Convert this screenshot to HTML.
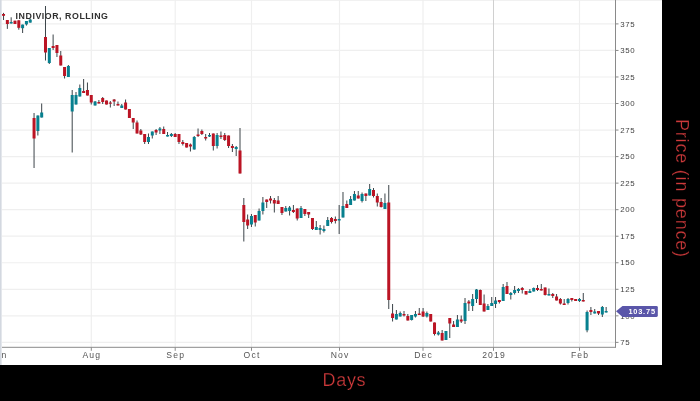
<!DOCTYPE html>
<html><head><meta charset="utf-8"><style>
html,body{margin:0;padding:0;background:#000;width:700px;height:401px;overflow:hidden}
svg{position:absolute;left:0;top:0;will-change:transform;font-family:"Liberation Sans",sans-serif}
</style></head><body>
<svg width="700" height="401" viewBox="0 0 700 401">
<rect x="0" y="0" width="700" height="401" fill="#000"/>
<rect x="0" y="0" width="662" height="365" fill="#fff"/>
<rect x="0" y="0" width="662" height="1" fill="#f1f1f1"/>
<svg x="0" y="0" width="662" height="365" overflow="hidden">
<g>
<g stroke="#efefef" stroke-width="1.2"><line x1="2" y1="23.9" x2="615" y2="23.9"/><line x1="2" y1="50.44" x2="615" y2="50.44"/><line x1="2" y1="76.98" x2="615" y2="76.98"/><line x1="2" y1="103.52" x2="615" y2="103.52"/><line x1="2" y1="130.06" x2="615" y2="130.06"/><line x1="2" y1="156.6" x2="615" y2="156.6"/><line x1="2" y1="183.14" x2="615" y2="183.14"/><line x1="2" y1="209.68" x2="615" y2="209.68"/><line x1="2" y1="236.22" x2="615" y2="236.22"/><line x1="2" y1="262.76" x2="615" y2="262.76"/><line x1="2" y1="289.3" x2="615" y2="289.3"/><line x1="2" y1="315.84" x2="615" y2="315.84"/><line x1="2" y1="342.38" x2="615" y2="342.38"/><line x1="91.3" y1="0" x2="91.3" y2="347"/><line x1="175.2" y1="0" x2="175.2" y2="347"/><line x1="251.5" y1="0" x2="251.5" y2="347"/><line x1="339.5" y1="0" x2="339.5" y2="347"/><line x1="423" y1="0" x2="423" y2="347"/><line x1="579.5" y1="0" x2="579.5" y2="347"/></g>
<line x1="493.5" y1="0" x2="493.5" y2="347" stroke="#d0d0d0" stroke-width="1"/>
<g stroke="#3c4449" stroke-width="1.0"><line x1="3.54" y1="12.9" x2="3.54" y2="20"/><line x1="7.35" y1="20" x2="7.35" y2="28.9"/><line x1="11.17" y1="17.3" x2="11.17" y2="23.5"/><line x1="14.98" y1="20.7" x2="14.98" y2="24"/><line x1="18.8" y1="20.3" x2="18.8" y2="29.7"/><line x1="22.61" y1="24.6" x2="22.61" y2="33"/><line x1="26.42" y1="21" x2="26.42" y2="25.6"/><line x1="30.24" y1="18.5" x2="30.24" y2="22.6"/><line x1="34.05" y1="113" x2="34.05" y2="168"/><line x1="37.87" y1="115.5" x2="37.87" y2="135.5"/><line x1="41.68" y1="103.5" x2="41.68" y2="117.5"/><line x1="45.49" y1="6" x2="45.49" y2="60.5"/><line x1="49.31" y1="48" x2="49.31" y2="64"/><line x1="53.12" y1="34.5" x2="53.12" y2="50"/><line x1="56.94" y1="45" x2="56.94" y2="57"/><line x1="60.75" y1="51" x2="60.75" y2="65.5"/><line x1="64.56" y1="67" x2="64.56" y2="78.5"/><line x1="68.38" y1="65" x2="68.38" y2="77"/><line x1="72.19" y1="90" x2="72.19" y2="152.5"/><line x1="76.01" y1="92" x2="76.01" y2="104.5"/><line x1="79.82" y1="84.5" x2="79.82" y2="96.5"/><line x1="83.63" y1="79" x2="83.63" y2="93"/><line x1="87.45" y1="82.5" x2="87.45" y2="95.5"/><line x1="91.26" y1="95" x2="91.26" y2="104.5"/><line x1="95.08" y1="101" x2="95.08" y2="105.5"/><line x1="98.89" y1="100" x2="98.89" y2="103.5"/><line x1="102.7" y1="97" x2="102.7" y2="104"/><line x1="106.52" y1="100.5" x2="106.52" y2="104.5"/><line x1="110.33" y1="101" x2="110.33" y2="107.5"/><line x1="114.15" y1="99" x2="114.15" y2="106"/><line x1="117.96" y1="101.5" x2="117.96" y2="105.5"/><line x1="121.77" y1="104" x2="121.77" y2="108"/><line x1="125.59" y1="99.5" x2="125.59" y2="109.5"/><line x1="129.4" y1="109" x2="129.4" y2="118"/><line x1="133.22" y1="118" x2="133.22" y2="129"/><line x1="137.03" y1="120.5" x2="137.03" y2="133.5"/><line x1="140.84" y1="129" x2="140.84" y2="135"/><line x1="144.66" y1="134" x2="144.66" y2="144"/><line x1="148.47" y1="133.5" x2="148.47" y2="144"/><line x1="152.29" y1="131.5" x2="152.29" y2="138.5"/><line x1="156.1" y1="129" x2="156.1" y2="135"/><line x1="159.91" y1="127" x2="159.91" y2="134"/><line x1="163.73" y1="126.5" x2="163.73" y2="134"/><line x1="167.54" y1="132" x2="167.54" y2="136.5"/><line x1="171.36" y1="133" x2="171.36" y2="137"/><line x1="175.17" y1="133" x2="175.17" y2="137"/><line x1="178.98" y1="134" x2="178.98" y2="144"/><line x1="182.8" y1="140" x2="182.8" y2="145.5"/><line x1="186.61" y1="143" x2="186.61" y2="147.5"/><line x1="190.43" y1="143.5" x2="190.43" y2="151.5"/><line x1="194.24" y1="136" x2="194.24" y2="149.5"/><line x1="198.05" y1="128.5" x2="198.05" y2="137"/><line x1="201.87" y1="129.5" x2="201.87" y2="135"/><line x1="205.68" y1="134" x2="205.68" y2="140.5"/><line x1="209.5" y1="133" x2="209.5" y2="137"/><line x1="213.31" y1="133.5" x2="213.31" y2="150.5"/><line x1="217.12" y1="133" x2="217.12" y2="148.5"/><line x1="220.94" y1="131.5" x2="220.94" y2="139"/><line x1="224.75" y1="133" x2="224.75" y2="141"/><line x1="228.57" y1="135.5" x2="228.57" y2="148"/><line x1="232.38" y1="144" x2="232.38" y2="152"/><line x1="236.19" y1="146" x2="236.19" y2="156"/><line x1="240.01" y1="128" x2="240.01" y2="173.5"/><line x1="243.82" y1="198" x2="243.82" y2="241.5"/><line x1="247.64" y1="214.5" x2="247.64" y2="229"/><line x1="251.45" y1="214" x2="251.45" y2="227"/><line x1="255.26" y1="215" x2="255.26" y2="226.5"/><line x1="259.08" y1="208.5" x2="259.08" y2="220.5"/><line x1="262.89" y1="197" x2="262.89" y2="214.5"/><line x1="266.71" y1="199.5" x2="266.71" y2="208"/><line x1="270.52" y1="196" x2="270.52" y2="203.5"/><line x1="274.33" y1="198" x2="274.33" y2="212.5"/><line x1="278.15" y1="196" x2="278.15" y2="204"/><line x1="281.96" y1="207" x2="281.96" y2="215"/><line x1="285.78" y1="206" x2="285.78" y2="211.5"/><line x1="289.59" y1="206" x2="289.59" y2="215.5"/><line x1="293.4" y1="205" x2="293.4" y2="213"/><line x1="297.22" y1="208.5" x2="297.22" y2="220.5"/><line x1="301.03" y1="206" x2="301.03" y2="218"/><line x1="304.85" y1="209" x2="304.85" y2="216"/><line x1="308.66" y1="212" x2="308.66" y2="218"/><line x1="312.47" y1="218" x2="312.47" y2="230"/><line x1="316.29" y1="221" x2="316.29" y2="230"/><line x1="320.1" y1="225" x2="320.1" y2="234.5"/><line x1="323.92" y1="225.5" x2="323.92" y2="232.5"/><line x1="327.73" y1="217" x2="327.73" y2="226"/><line x1="331.54" y1="217" x2="331.54" y2="223.5"/><line x1="335.36" y1="216.5" x2="335.36" y2="223.5"/><line x1="339.17" y1="205" x2="339.17" y2="234"/><line x1="342.99" y1="192" x2="342.99" y2="217.5"/><line x1="346.8" y1="200.5" x2="346.8" y2="208"/><line x1="350.61" y1="196" x2="350.61" y2="205"/><line x1="354.43" y1="191" x2="354.43" y2="200.5"/><line x1="358.24" y1="191" x2="358.24" y2="198.5"/><line x1="362.06" y1="192.5" x2="362.06" y2="202.5"/><line x1="365.87" y1="193.5" x2="365.87" y2="201"/><line x1="369.68" y1="184" x2="369.68" y2="195.5"/><line x1="373.5" y1="188" x2="373.5" y2="197.5"/><line x1="377.31" y1="193.5" x2="377.31" y2="206.5"/><line x1="381.13" y1="198" x2="381.13" y2="207.5"/><line x1="384.94" y1="193.5" x2="384.94" y2="209"/><line x1="388.75" y1="185" x2="388.75" y2="309"/><line x1="392.57" y1="304" x2="392.57" y2="321.5"/><line x1="396.38" y1="310" x2="396.38" y2="319.5"/><line x1="400.2" y1="311.5" x2="400.2" y2="316.5"/><line x1="404.01" y1="311" x2="404.01" y2="316.5"/><line x1="407.82" y1="314" x2="407.82" y2="320.5"/><line x1="411.64" y1="315" x2="411.64" y2="320.5"/><line x1="415.45" y1="311" x2="415.45" y2="317.5"/><line x1="419.27" y1="308" x2="419.27" y2="315"/><line x1="423.08" y1="308" x2="423.08" y2="317"/><line x1="426.89" y1="311.5" x2="426.89" y2="317.5"/><line x1="430.71" y1="314" x2="430.71" y2="321.5"/><line x1="434.52" y1="322.5" x2="434.52" y2="335.5"/><line x1="438.34" y1="331" x2="438.34" y2="335.5"/><line x1="442.15" y1="330" x2="442.15" y2="340.5"/><line x1="445.96" y1="331" x2="445.96" y2="340"/><line x1="449.78" y1="318" x2="449.78" y2="338"/><line x1="453.59" y1="321" x2="453.59" y2="327"/><line x1="457.41" y1="315" x2="457.41" y2="327"/><line x1="461.22" y1="315.5" x2="461.22" y2="323"/><line x1="465.03" y1="298" x2="465.03" y2="324"/><line x1="468.85" y1="300" x2="468.85" y2="311"/><line x1="472.66" y1="294" x2="472.66" y2="311"/><line x1="476.48" y1="289" x2="476.48" y2="303"/><line x1="480.29" y1="289.5" x2="480.29" y2="305"/><line x1="484.1" y1="294.5" x2="484.1" y2="311.5"/><line x1="487.92" y1="304" x2="487.92" y2="310"/><line x1="491.73" y1="297" x2="491.73" y2="306"/><line x1="495.55" y1="297" x2="495.55" y2="308"/><line x1="499.36" y1="300" x2="499.36" y2="303.5"/><line x1="503.17" y1="284" x2="503.17" y2="301"/><line x1="506.99" y1="282" x2="506.99" y2="294"/><line x1="510.8" y1="292" x2="510.8" y2="299.5"/><line x1="514.62" y1="286" x2="514.62" y2="294.5"/><line x1="518.43" y1="288" x2="518.43" y2="293"/><line x1="522.24" y1="287" x2="522.24" y2="293.5"/><line x1="526.06" y1="291" x2="526.06" y2="294.5"/><line x1="529.87" y1="289" x2="529.87" y2="293"/><line x1="533.69" y1="287.5" x2="533.69" y2="291.5"/><line x1="537.5" y1="285" x2="537.5" y2="291"/><line x1="541.31" y1="284" x2="541.31" y2="290.5"/><line x1="545.13" y1="287.5" x2="545.13" y2="295.5"/><line x1="548.94" y1="288.5" x2="548.94" y2="295.5"/><line x1="552.76" y1="293" x2="552.76" y2="298"/><line x1="556.57" y1="294" x2="556.57" y2="300.5"/><line x1="560.38" y1="298" x2="560.38" y2="304.5"/><line x1="564.2" y1="299" x2="564.2" y2="305"/><line x1="568.01" y1="298" x2="568.01" y2="304.5"/><line x1="571.83" y1="298" x2="571.83" y2="301.5"/><line x1="575.64" y1="299" x2="575.64" y2="301"/><line x1="579.45" y1="298" x2="579.45" y2="302"/><line x1="583.27" y1="293" x2="583.27" y2="301.5"/><line x1="587.08" y1="310.5" x2="587.08" y2="332.3"/><line x1="590.9" y1="307" x2="590.9" y2="315"/><line x1="594.71" y1="309" x2="594.71" y2="313.5"/><line x1="598.52" y1="311" x2="598.52" y2="315"/><line x1="602.34" y1="306" x2="602.34" y2="317"/><line x1="606.15" y1="307" x2="606.15" y2="312.5"/></g>
<g fill="#bb1424"><rect x="2.04" y="14" width="3" height="1.8"/><rect x="5.85" y="20" width="3" height="4"/><rect x="13.48" y="20.7" width="3" height="3.3"/><rect x="17.3" y="20.3" width="3" height="7.5"/><rect x="32.55" y="118" width="3" height="20.5"/><rect x="43.99" y="37" width="3" height="15.5"/><rect x="51.62" y="46" width="3" height="2"/><rect x="55.44" y="45" width="3" height="8"/><rect x="59.25" y="55.5" width="3" height="10"/><rect x="63.06" y="67" width="3" height="9"/><rect x="82.13" y="91" width="3" height="2"/><rect x="85.95" y="90" width="3" height="5.5"/><rect x="89.76" y="95" width="3" height="7.5"/><rect x="97.39" y="102" width="3" height="1.5"/><rect x="101.2" y="98" width="3" height="4"/><rect x="105.02" y="100.5" width="3" height="4"/><rect x="108.83" y="102.5" width="3" height="1.2"/><rect x="112.65" y="99.5" width="3" height="2"/><rect x="116.46" y="104" width="3" height="1.5"/><rect x="124.09" y="102.5" width="3" height="7"/><rect x="127.9" y="109" width="3" height="9"/><rect x="131.72" y="118" width="3" height="4.5"/><rect x="135.53" y="122.5" width="3" height="11"/><rect x="139.34" y="130.5" width="3" height="4"/><rect x="143.16" y="134" width="3" height="8"/><rect x="154.6" y="130" width="3" height="2.5"/><rect x="162.23" y="129" width="3" height="5"/><rect x="173.67" y="134" width="3" height="3"/><rect x="177.48" y="134" width="3" height="8"/><rect x="181.3" y="142" width="3" height="2"/><rect x="185.11" y="143" width="3" height="4.5"/><rect x="188.93" y="144.5" width="3" height="2"/><rect x="196.55" y="134.5" width="3" height="1.5"/><rect x="200.37" y="131" width="3" height="3"/><rect x="204.18" y="137" width="3" height="1.5"/><rect x="211.81" y="133.5" width="3" height="12.5"/><rect x="219.44" y="135.5" width="3" height="1.5"/><rect x="223.25" y="135" width="3" height="5"/><rect x="227.07" y="135.5" width="3" height="10.5"/><rect x="230.88" y="146" width="3" height="2"/><rect x="238.51" y="150.5" width="3" height="23"/><rect x="242.32" y="205" width="3" height="17"/><rect x="246.14" y="219.5" width="3" height="6"/><rect x="253.76" y="215" width="3" height="7.5"/><rect x="265.21" y="199.5" width="3" height="2.5"/><rect x="269.02" y="198.5" width="3" height="2"/><rect x="272.83" y="200" width="3" height="3.5"/><rect x="276.65" y="200.5" width="3" height="3.5"/><rect x="280.46" y="207" width="3" height="6"/><rect x="291.9" y="210" width="3" height="2"/><rect x="295.72" y="208.5" width="3" height="10"/><rect x="303.35" y="209" width="3" height="5"/><rect x="307.16" y="212" width="3" height="2.5"/><rect x="310.97" y="218" width="3" height="11"/><rect x="330.04" y="218" width="3" height="4"/><rect x="333.86" y="219" width="3" height="2"/><rect x="345.3" y="204" width="3" height="4"/><rect x="356.74" y="195.5" width="3" height="3"/><rect x="364.37" y="193.5" width="3" height="2.5"/><rect x="372" y="190" width="3" height="6"/><rect x="375.81" y="196" width="3" height="6.5"/><rect x="379.63" y="202" width="3" height="5"/><rect x="387.25" y="202.5" width="3" height="97.5"/><rect x="391.07" y="313.5" width="3" height="4.5"/><rect x="402.51" y="314" width="3" height="1.5"/><rect x="406.32" y="316" width="3" height="4.5"/><rect x="417.77" y="313.5" width="3" height="1.5"/><rect x="421.58" y="311.5" width="3" height="5"/><rect x="429.21" y="314" width="3" height="7.5"/><rect x="433.02" y="322.5" width="3" height="11.5"/><rect x="440.65" y="333" width="3" height="7.5"/><rect x="448.28" y="318" width="3" height="5.5"/><rect x="452.09" y="324.5" width="3" height="2.5"/><rect x="459.72" y="319.5" width="3" height="2"/><rect x="467.35" y="301.5" width="3" height="2"/><rect x="478.79" y="290" width="3" height="15"/><rect x="482.6" y="303.5" width="3" height="8"/><rect x="497.86" y="300" width="3" height="2"/><rect x="505.49" y="286" width="3" height="8"/><rect x="520.74" y="288" width="3" height="2"/><rect x="524.56" y="291" width="3" height="3.5"/><rect x="536" y="288" width="3" height="2"/><rect x="539.81" y="289" width="3" height="1.5"/><rect x="543.63" y="287.5" width="3" height="7.5"/><rect x="551.26" y="294" width="3" height="2"/><rect x="555.07" y="296.5" width="3" height="4"/><rect x="558.88" y="299" width="3" height="4.5"/><rect x="562.7" y="303.5" width="3" height="1.5"/><rect x="570.33" y="298" width="3" height="2"/><rect x="574.14" y="299" width="3" height="2"/><rect x="581.77" y="300" width="3" height="1.5"/><rect x="589.4" y="310" width="3" height="2"/><rect x="597.02" y="311" width="3" height="2.5"/></g>
<g fill="#07808f"><rect x="9.67" y="22" width="3" height="1.5"/><rect x="21.11" y="24.6" width="3" height="3.6"/><rect x="24.92" y="21" width="3" height="3.4"/><rect x="28.74" y="19.6" width="3" height="3"/><rect x="36.37" y="115.5" width="3" height="15.5"/><rect x="40.18" y="112.5" width="3" height="5"/><rect x="47.81" y="48" width="3" height="15"/><rect x="66.88" y="66" width="3" height="11"/><rect x="70.69" y="95" width="3" height="16.5"/><rect x="74.51" y="95" width="3" height="9.5"/><rect x="78.32" y="88" width="3" height="8.5"/><rect x="93.58" y="101.5" width="3" height="4"/><rect x="120.27" y="105.5" width="3" height="2.5"/><rect x="146.97" y="137" width="3" height="5"/><rect x="150.79" y="131.5" width="3" height="4"/><rect x="158.41" y="128.5" width="3" height="2"/><rect x="166.04" y="135" width="3" height="1.5"/><rect x="169.86" y="134" width="3" height="2"/><rect x="192.74" y="137" width="3" height="12.5"/><rect x="208" y="135" width="3" height="1.5"/><rect x="215.62" y="135" width="3" height="11"/><rect x="234.69" y="147" width="3" height="2"/><rect x="249.95" y="216" width="3" height="8.5"/><rect x="257.58" y="211" width="3" height="9.5"/><rect x="261.39" y="202.5" width="3" height="8.5"/><rect x="284.28" y="208" width="3" height="3.5"/><rect x="288.09" y="207.5" width="3" height="3.5"/><rect x="299.53" y="208" width="3" height="10"/><rect x="314.79" y="227" width="3" height="3"/><rect x="318.6" y="228" width="3" height="2"/><rect x="322.42" y="229" width="3" height="2"/><rect x="326.23" y="220" width="3" height="6"/><rect x="337.67" y="219" width="3" height="1.5"/><rect x="341.49" y="206" width="3" height="11.5"/><rect x="349.11" y="199" width="3" height="6"/><rect x="352.93" y="194" width="3" height="6.5"/><rect x="360.56" y="194" width="3" height="7"/><rect x="368.18" y="189" width="3" height="6.5"/><rect x="383.44" y="203" width="3" height="6"/><rect x="394.88" y="314" width="3" height="5.5"/><rect x="398.7" y="313" width="3" height="3.5"/><rect x="410.14" y="315" width="3" height="5"/><rect x="413.95" y="314" width="3" height="2.5"/><rect x="425.39" y="313" width="3" height="3.5"/><rect x="436.84" y="332.5" width="3" height="2"/><rect x="444.46" y="331" width="3" height="9"/><rect x="455.91" y="319.5" width="3" height="7.5"/><rect x="463.53" y="303" width="3" height="18"/><rect x="471.16" y="299" width="3" height="7"/><rect x="474.98" y="289.5" width="3" height="9.5"/><rect x="486.42" y="306" width="3" height="4"/><rect x="490.23" y="303" width="3" height="3"/><rect x="494.05" y="300.5" width="3" height="3.5"/><rect x="501.67" y="287" width="3" height="14"/><rect x="509.3" y="293" width="3" height="2"/><rect x="513.12" y="290" width="3" height="3"/><rect x="516.93" y="289" width="3" height="2"/><rect x="528.37" y="291" width="3" height="2"/><rect x="532.19" y="288" width="3" height="3.5"/><rect x="547.44" y="294" width="3" height="1.5"/><rect x="566.51" y="299" width="3" height="4"/><rect x="577.95" y="299" width="3" height="2"/><rect x="585.58" y="312" width="3" height="18.3"/><rect x="593.21" y="311.5" width="3" height="2"/><rect x="600.84" y="307" width="3" height="7.5"/><rect x="604.65" y="311" width="3" height="1.5"/></g>
<g stroke="#8a8a8a" stroke-width="1"><line x1="615.5" y1="0" x2="615.5" y2="347.8"/><line x1="2" y1="347.3" x2="615.5" y2="347.3"/><line x1="615.5" y1="23.9" x2="618.5" y2="23.9"/><line x1="615.5" y1="50.44" x2="618.5" y2="50.44"/><line x1="615.5" y1="76.98" x2="618.5" y2="76.98"/><line x1="615.5" y1="103.52" x2="618.5" y2="103.52"/><line x1="615.5" y1="130.06" x2="618.5" y2="130.06"/><line x1="615.5" y1="156.6" x2="618.5" y2="156.6"/><line x1="615.5" y1="183.14" x2="618.5" y2="183.14"/><line x1="615.5" y1="209.68" x2="618.5" y2="209.68"/><line x1="615.5" y1="236.22" x2="618.5" y2="236.22"/><line x1="615.5" y1="262.76" x2="618.5" y2="262.76"/><line x1="615.5" y1="289.3" x2="618.5" y2="289.3"/><line x1="615.5" y1="315.84" x2="618.5" y2="315.84"/><line x1="615.5" y1="342.38" x2="618.5" y2="342.38"/><line x1="91.3" y1="347.3" x2="91.3" y2="350.8"/><line x1="175.2" y1="347.3" x2="175.2" y2="350.8"/><line x1="251.5" y1="347.3" x2="251.5" y2="350.8"/><line x1="339.5" y1="347.3" x2="339.5" y2="350.8"/><line x1="423" y1="347.3" x2="423" y2="350.8"/><line x1="493.5" y1="347.3" x2="493.5" y2="350.8"/><line x1="579.5" y1="347.3" x2="579.5" y2="350.8"/></g>
<g fill="#444" font-size="7.9" letter-spacing="0.55"><text x="620.3" y="26.6">375</text><text x="620.3" y="53.14">350</text><text x="620.3" y="79.68">325</text><text x="620.3" y="106.22">300</text><text x="620.3" y="132.76">275</text><text x="620.3" y="159.3">250</text><text x="620.3" y="185.84">225</text><text x="620.3" y="212.38">200</text><text x="620.3" y="238.92">175</text><text x="620.3" y="265.46">150</text><text x="620.3" y="292">125</text><text x="620.3" y="318.54">100</text><text x="620.3" y="345.08">75</text></g>
<g fill="#555" font-size="8.6" letter-spacing="1.2" text-anchor="middle"><text x="-1.2" y="358.3">Jun</text><text x="91.9" y="358.3">Aug</text><text x="175.8" y="358.3">Sep</text><text x="252.1" y="358.3">Oct</text><text x="340.1" y="358.3">Nov</text><text x="423.6" y="358.3">Dec</text><text x="494.1" y="358.3">2019</text><text x="580.1" y="358.3">Feb</text></g>
<path d="M616,311.3 L622.5,306 L656.5,306 Q657.8,306 657.8,307.3 L657.8,315.5 Q657.8,316.9 656.5,316.9 L622.5,316.9 Z" fill="#5a56a9"/>
<text x="628.4" y="314.2" fill="#fff" font-size="7.4" font-weight="bold" letter-spacing="0.8">103.75</text>
<text x="15.6" y="18.8" fill="#303030" font-size="8.8" font-weight="bold" letter-spacing="0.55">INDIVIOR, ROLLING</text>
</g>
</svg>
<rect x="0" y="0" width="1.6" height="365" fill="#d3d8e0"/>
<text x="322.5" y="385.7" fill="#ce3a3b" stroke="#000" stroke-width="0.25" font-size="18" letter-spacing="0.7">Days</text>
<text transform="translate(676,119) rotate(90)" fill="#ce3a3b" stroke="#000" stroke-width="0.25" font-size="18" letter-spacing="0.8">Price (in pence)</text>
</svg>
</body></html>
